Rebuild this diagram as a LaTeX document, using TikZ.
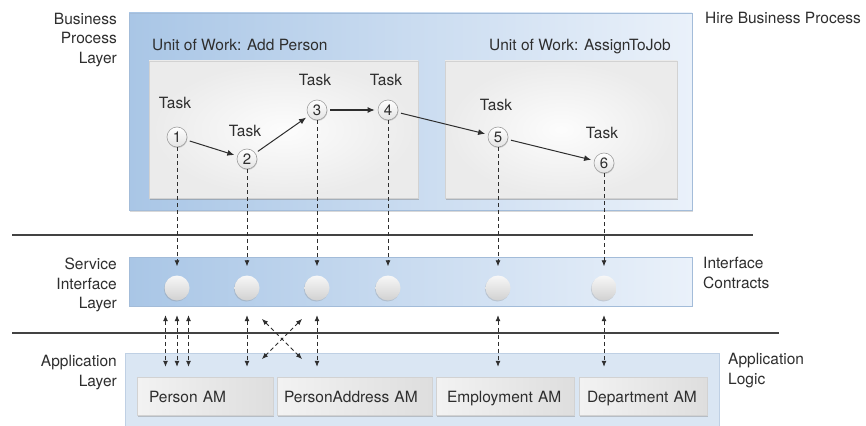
\documentclass[tikz,border=0pt]{standalone}
\usepackage{fontspec}
\setmainfont{TeX Gyre Heros}
\usetikzlibrary{arrows.meta,positioning,shadows}

\definecolor{bplblue}{HTML}{A9C6E6}
\definecolor{bpllight}{HTML}{EAF1FA}
\definecolor{appblue}{HTML}{DAE6F3}
\definecolor{edgeblue}{HTML}{A3BCD9}
\definecolor{txtgray}{HTML}{2E2E2E}

\begin{document}
\begin{tikzpicture}[x=1pt,y=-1pt,>={Latex[length=7pt,width=6pt]},
  every node/.style={font=\fontsize{15.5}{19.5}\selectfont,text=txtgray,inner sep=0pt},
  layer/.style={draw=edgeblue,line width=0.6pt,left color=bplblue,middle color=bplblue!75!bpllight,right color=bpllight},
  unit/.style={draw=gray!35,line width=0.5pt,shading=radial,inner color=gray!2,outer color=gray!16,
    drop shadow={shadow xshift=1pt,shadow yshift=-1.5pt,opacity=0.45}},
  task/.style={circle,draw=gray!75,line width=0.6pt,minimum size=20pt,top color=white,bottom color=gray!22,
    font=\fontsize{15}{15}\selectfont,drop shadow={shadow xshift=0.4pt,shadow yshift=-1pt,opacity=0.35}},
  port/.style={circle,minimum size=25pt,top color=gray!6,bottom color=gray!36,
    drop shadow={shadow xshift=-0.6pt,shadow yshift=-1pt,opacity=0.3}},
  am/.style={draw=gray!35,line width=0.5pt,minimum height=38pt,align=left,text height=13pt,text depth=1pt,
    left color=gray!10,right color=gray!26,drop shadow={shadow xshift=1pt,shadow yshift=-1.5pt,opacity=0.4}},
  flow/.style={->,draw=txtgray,line width=1pt,shorten <=3pt,shorten >=3pt},
  dep/.style={-{Latex[length=6pt,width=5pt]},draw=txtgray,line width=0.8pt,dash pattern=on 4pt off 3pt},
  link/.style={{Latex[length=6pt,width=5pt]}-{Latex[length=6pt,width=5pt]},draw=txtgray,line width=0.8pt,
    dash pattern=on 4pt off 3pt,shorten <=14.5pt,shorten >=10pt},
  sep/.style={draw=txtgray!90,line width=1.4pt}]
\useasboundingbox[fill=white] (0,0) rectangle (866,425);

% layers
\path[layer,drop shadow={shadow xshift=1pt,shadow yshift=-1.5pt,opacity=0.3}] (129,13) rectangle (692,210);
\path[unit] (149,61) rectangle (418,198);
\path[unit] (445,61) rectangle (677,198);
\path[layer] (129,257) rectangle (692,306);
\path[draw=edgeblue!70,fill=appblue,line width=0.6pt] (125,353) rectangle (719,430);
\draw[sep] (12,235) -- (753,235);
\draw[sep] (12,333) -- (779,333);

% labels
\node[anchor=north east,align=right] (bpl) at (117,13) {Business\\Process\\Layer};
\node[anchor=north east,align=right] (sil) at (117,258) {Service\\Interface\\Layer};
\node[anchor=north east,align=right] (apl) at (117,355) {Application\\Layer};
\node[anchor=north west,align=left] (hire) at (705,12) {Hire Business Process};
\node[anchor=north west,align=left] (contracts) at (703,257) {Interface\\Contracts};
\node[anchor=north west,align=left] (logic) at (728,353) {Application\\Logic};
\node[anchor=north west] (uwadd) at (152,39) {Unit of Work: Add Person};
\node[anchor=north east] (uwjob) at (671,39) {Unit of Work: AssignToJob};

% tasks and interface contracts
\foreach \n/\x/\y/\d in {1/177/137/18,2/247/159/12,3/317/110/14,4/388/110/14,5/498/137/16,6/604/163/14}{
  \node[task] (t\n) at (\x,\y) {\n};
  \node[above=\d pt of t\n,xshift=-2pt] (task\n) {Task};
  \node[port] (s\n) at (\x,288) {};
  \draw[dep,shorten >=9pt] (t\n) -- (s\n);
}
\draw[flow] (t1) -- (t2);
\draw[flow] (t2) -- (t3);
\draw[flow] (t3) -- (t4);
\draw[flow] (t4) -- (t5);
\draw[flow] (t5) -- (t6);

% application modules
\node[am,text width=112pt,inner xsep=12pt] (pam) at (205,396) {Person AM};
\node[am,text width=141pt,inner xsep=7pt] (paam) at (354.5,396) {PersonAddress AM};
\node[am,text width=116pt,inner xsep=11pt] (eam) at (505,396) {Employment AM};
\node[am,text width=112pt,inner xsep=8pt] (dam) at (643,396) {Department AM};

\draw[link] ([xshift=-11.5pt]s1.south) -- ([xshift=-11.5pt]s1.south |- pam.north);
\draw[link] (s1.south) -- (s1.south |- pam.north);
\draw[link] ([xshift=11.5pt]s1.south) -- ([xshift=11.5pt]s1.south |- pam.north);
\draw[link] (s2.south) -- (s2.south |- pam.north);
\draw[link] (s3.south) -- (s3.south |- paam.north);
\draw[link] (s5.south) -- (s5.south |- eam.north);
\draw[link] (s6.south) -- (s6.south |- dam.north);
\coordinate (xa) at (262,319);
\coordinate (xb) at (302,359);
\coordinate (xc) at (302,319);
\coordinate (xd) at (262,359);
\draw[link,shorten <=0pt,shorten >=0pt] (xa) -- (xb);
\draw[link,shorten <=0pt,shorten >=0pt] (xc) -- (xd);
\end{tikzpicture}
\end{document}
